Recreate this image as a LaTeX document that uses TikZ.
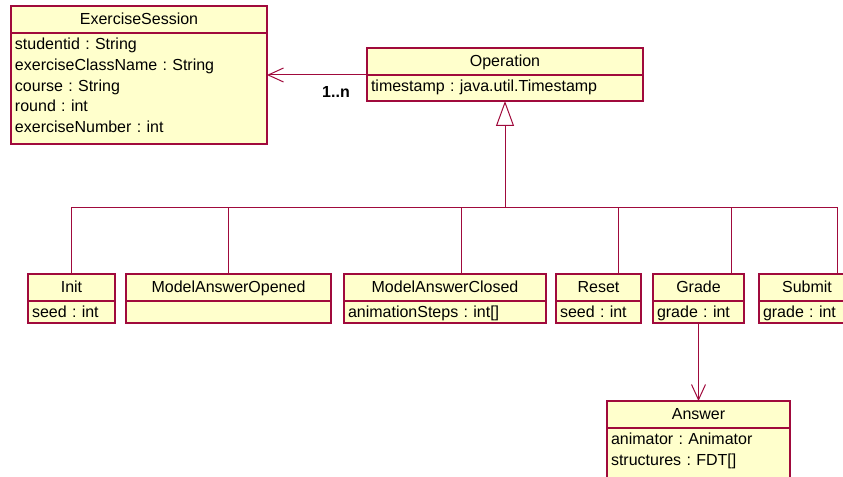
\documentclass[tikz,border=0pt]{standalone}
\usepackage{fontspec}
\setmainfont{Liberation Sans}
\usetikzlibrary{arrows.meta,positioning,calc}
\definecolor{roseline}{RGB}{160,10,60}
\definecolor{rosefill}{RGB}{255,255,204}
\frenchspacing

\begin{document}
\begin{tikzpicture}[x=0.75pt,y=-0.75pt,
        cls/.style={draw=roseline,fill=rosefill,line width=0.9pt,outer sep=0pt,
            font=\fontsize{12}{15.4}\selectfont},
        clshead/.style={cls,anchor=north west,inner sep=0pt,text height=14pt,text depth=6.25pt},
        clsbody/.style={cls,align=left,inner xsep=3pt,inner ysep=0pt,text height=12.75pt,text depth=3.75pt},
        link/.style={draw=roseline,line width=0.75pt},
        gen/.style={link,-{Triangle[open,length=18.75pt,width=13.5pt]}},
        nav/.style={link,-{Straight Barb[length=11.5pt,width=10.5pt]}}]
    \useasboundingbox (0,0) rectangle (843,477);

    % top row
    \node[clshead,minimum width=192pt] (es) at (11,6) {ExerciseSession};
    \node[clsbody,text width=186pt,text depth=70.5pt,below=0pt of es] (esattr)
        {studentid : String\\exerciseClassName : String\\course : String\\round : int\\exerciseNumber : int};

    \node[clshead,minimum width=207pt] (op) at (367,48) {Operation};
    \node[clsbody,text width=201pt,text depth=6.75pt,below=0pt of op] (opattr) {timestamp : java.util.Timestamp};

    % subclasses
    \node[clshead,minimum width=65.25pt] (init) at (28,274) {Init};
    \node[clsbody,text width=59.25pt,below=0pt of init] (initattr) {seed : int};

    \node[clshead,minimum width=153.75pt] (mao) at (126,274) {ModelAnswerOpened};
    \node[clsbody,text width=147.75pt,below=0pt of mao] (maoattr) {};

    \node[clshead,minimum width=151.5pt] (mac) at (344,274) {ModelAnswerClosed};
    \node[clsbody,text width=145.5pt,below=0pt of mac] (macattr) {animationSteps : int[]};

    \node[clshead,minimum width=63.75pt] (reset) at (556,274) {Reset};
    \node[clsbody,text width=57.75pt,below=0pt of reset] (resetattr) {seed : int};

    \node[clshead,minimum width=68.25pt] (grade) at (653,274) {Grade};
    \node[clsbody,text width=62.25pt,below=0pt of grade] (gradeattr) {grade : int};

    \node[clshead,minimum width=72pt] (submit) at (759,274) {Submit};
    \node[clsbody,text width=66pt,below=0pt of submit] (submitattr) {grade : int};

    \node[clshead,minimum width=137.25pt] (answer) at (607,401) {Answer};
    \node[clsbody,text width=131.25pt,text depth=40pt,below=0pt of answer] (answerattr)
        {animator : Animator\\structures : FDT[]};

    % association
    \draw[nav] (op.south west) -- (op.south west -| esattr.east);
    \node[font=\bfseries\fontsize{12}{14}\selectfont] (mult) at (336,92) {1..n};

    % generalization tree
    \path (opattr.south) ++(0,107) coordinate (bus);
    \draw[gen] (bus) -- (opattr.south);
    \draw[link] (init.north) |- (bus);
    \draw[link] (mao.north) |- (bus);
    \draw[link] ($(mac.north west)!.58!(mac.north east)$) |- (bus);
    \draw[link] ($(reset.north west)!.73!(reset.north east)$) |- (bus);
    \draw[link] ($(grade.north west)!.86!(grade.north east)$) |- (bus);
    \draw[link] ($(submit.north west)!.82!(submit.north east)$) |- (bus);

    \draw[nav] (gradeattr.south) -- (answer.north);
\end{tikzpicture}
\end{document}
